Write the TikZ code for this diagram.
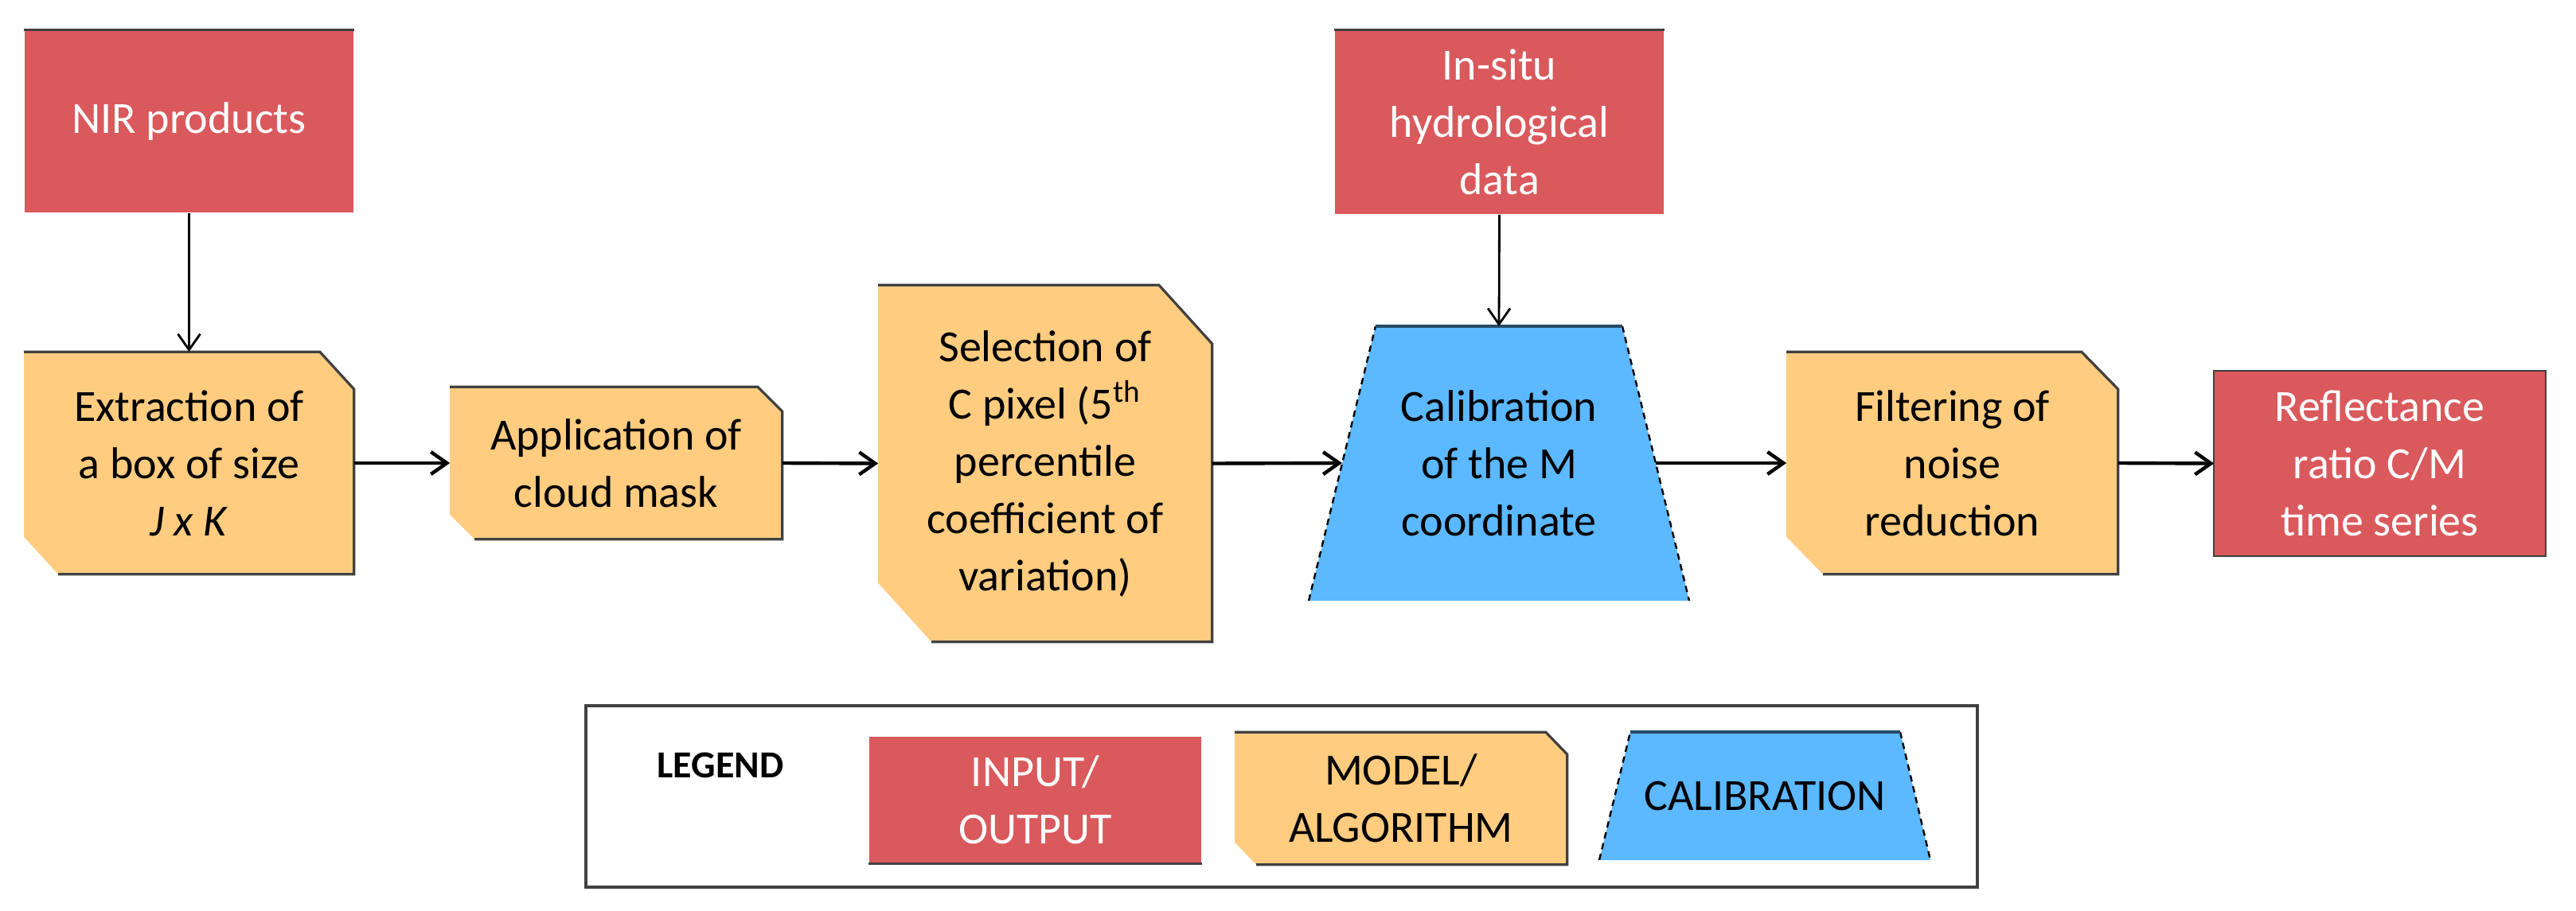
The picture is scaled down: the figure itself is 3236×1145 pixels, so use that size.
\documentclass[tikz,border=0pt]{standalone}
\usepackage{fontspec}
\setmainfont{Carlito}
\usetikzlibrary{arrows.meta}
\definecolor{redb}{HTML}{D9595C}
\definecolor{orab}{HTML}{FFCC80}
\definecolor{blub}{HTML}{5CB8FF}
\begin{document}
\begin{tikzpicture}[x=0.25pt,y=-0.25pt,
  txt/.style={align=center,font=\fontsize{14}{18}\selectfont},
  io/.style={txt,fill=redb,text=white,draw=none,inner sep=0pt},
  box/.style={txt,draw=none,inner sep=0pt},
  arr/.style={-{Straight Barb[length=5pt,width=7pt]},line width=1.1pt},
  varr/.style={-{Straight Barb[length=5pt,width=7pt]},line width=0.7pt}]
\useasboundingbox (0,0) rectangle (3236,1145);
% helper macro for model shape
\newcommand{\modelshape}[3]{%
  \fill[orab] (#1.north west) -- ([xshift=-#2*0.25pt]#1.north east) -- ([yshift=-#3*0.25pt]#1.north east) -- (#1.south east) -- ([xshift=#2*0.25pt]#1.south west) -- ([yshift=#3*0.25pt]#1.south west) -- cycle;
  \draw[line width=0.8pt,black!75] (#1.north west) -- ([xshift=-#2*0.25pt]#1.north east) -- ([yshift=-#3*0.25pt]#1.north east) -- (#1.south east) -- ([xshift=#2*0.25pt]#1.south west);}
% input/output boxes
\node[io,minimum width=413*0.25pt,minimum height=229*0.25pt] (nir) at (237.5,152.5) {NIR products};
\draw[line width=0.8pt,black!75] (nir.north west) -- (nir.north east);
\node[io,minimum width=413*0.25pt,minimum height=231*0.25pt] (ins) at (1883.5,153.5) {In-situ\\hydrological\\data};
\draw[line width=0.8pt,black!75] (ins.north west) -- (ins.north east);
\node[io,minimum width=415*0.25pt,minimum height=231*0.25pt] (ref) at (2989.5,582.5) {Reflectance\\ratio C/M\\time series};
\draw[line width=0.6pt,black!75] (ref.north west) rectangle (ref.south east);
% model boxes
\node[box,minimum width=413*0.25pt,minimum height=278*0.25pt] (ext) at (237.5,582) {};
\modelshape{ext}{43}{47}
\node[txt] at (ext) {Extraction of\\a box of size\\\textit{J x K}};
\node[box,minimum width=416*0.25pt,minimum height=190*0.25pt] (app) at (774,582) {};
\modelshape{app}{31}{31}
\node[txt] at (app) {Application of\\cloud mask};
\node[box,minimum width=418*0.25pt,minimum height=447*0.25pt] (sel) at (1313,582.5) {};
\modelshape{sel}{67}{74}
\node[txt] at (sel) {Selection of\\C pixel (5\textsuperscript{th}\\percentile\\coefficient of\\variation)};
\node[box,minimum width=415*0.25pt,minimum height=278*0.25pt] (fil) at (2452.5,582) {};
\modelshape{fil}{46}{47}
\node[txt] at (fil) {Filtering of\\noise\\reduction};
% calibration trapezoid
\coordinate (ct) at (1883,410);
\coordinate (cl) at (1686,582);
\coordinate (cr) at (2080,582);
\fill[blub] (1728,410) -- (2038,410) -- (2122,755) -- (1644,755) -- cycle;
\draw[line width=0.6pt,dashed,dash pattern=on 2pt off 1.5pt] (2038,410) -- (2122,755) (1644,755) -- (1728,410);
\draw[line width=0.8pt,blub!40!black] (1728,410) -- (2038,410);
\node[txt] (cal) at (1883,582.5) {Calibration\\of the M\\coordinate};
% arrows
\draw[varr] (nir.south) -- (ext.north);
\draw[varr] (ins.south) -- (ct);
\draw[arr] (ext.east) -- (app.west);
\draw[arr] (app.east) -- (sel.west);
\draw[arr] (sel.east) -- (cl);
\draw[arr] (cr) -- (fil.west);
\draw[arr] (fil.east) -- (ref.west);
% legend
\node[draw=black!75,line width=0.9pt,minimum width=1748*0.25pt,minimum height=228*0.25pt,inner sep=0pt] (leg) at (1610,1001) {};
\node[font=\fontsize{12}{15}\selectfont\bfseries] (legt) at (905,962) {LEGEND};
\node[io,minimum width=417*0.25pt,minimum height=159*0.25pt] (lio) at (1300.5,1005.5) {INPUT/\\OUTPUT};
\draw[line width=0.8pt,black!75] (lio.south west) -- (lio.south east);
\node[box,minimum width=416*0.25pt,minimum height=165*0.25pt] (lmod) at (1760,1003.5) {};
\modelshape{lmod}{27}{28}
\node[txt] at (lmod) {MODEL/\\ALGORITHM};
\fill[blub] (2048,920) -- (2387,920) -- (2425,1081) -- (2009,1081) -- cycle;
\draw[line width=0.6pt,dashed,dash pattern=on 2pt off 1.5pt] (2387,920) -- (2425,1081) (2009,1081) -- (2048,920);
\draw[line width=0.8pt,blub!40!black] (2048,920) -- (2387,920);
\node[txt] (lcal) at (2217,1001) {CALIBRATION};
\end{tikzpicture}
\end{document}
